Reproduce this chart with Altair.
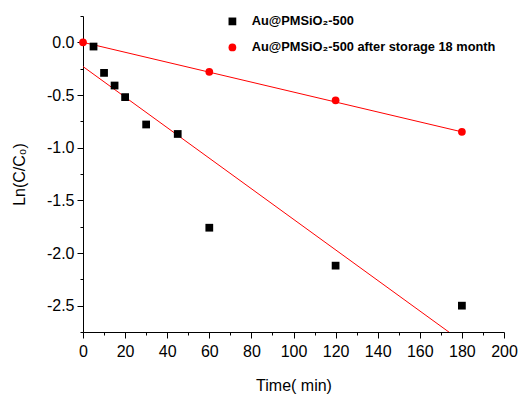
import altair as alt
import pandas as pd

s1 = "Au@PMSiO₂-500"
s2 = "Au@PMSiO₂-500 after storage 18 month"

t1 = [5, 10, 15, 20, 30, 45, 60, 120, 180]
y1 = [-0.04, -0.29, -0.41, -0.52, -0.78, -0.87, -1.76, -2.12, -2.50]
t2 = [0, 60, 120, 180]
y2 = [0.0, -0.28, -0.55, -0.85]

# fitted lines (endpoints)
fit1_x = [0, 180]
fit1_y = [-0.23, -2.84]
fit2_x = [0, 180]
fit2_y = [0.0, -0.85]

pts = pd.DataFrame(
    {"t": t1 + t2, "v": y1 + y2, "s": [s1] * len(t1) + [s2] * len(t2)}
)
fits = pd.DataFrame(
    {"t": fit1_x + fit2_x, "v": fit1_y + fit2_y, "g": ["a", "a", "b", "b"]}
)

font = "Liberation Sans"
xticks = list(range(0, 201, 10))
yticks = [-2.75 + 0.25 * i for i in range(13)]

xaxis = alt.Axis(
    values=xticks,
    labelExpr="datum.value % 20 === 0 ? datum.label : ''",
    tickSize={"condition": {"test": "datum.value % 20 === 0", "value": 6}, "value": 3},
    grid=False, domainColor="black", tickColor="black",
    labelFlush=False, labelOverlap=False,
    labelFont=font, labelFontSize=16, labelColor="black", labelPadding=5,
    titleFont=font, titleFontSize=16, titleFontWeight="normal", titleColor="black",
    titlePadding=18,
)
yaxis = alt.Axis(
    values=yticks,
    labelExpr="abs(datum.value*2 - round(datum.value*2)) < 1e-6 ? replace(format(datum.value, '.1f'), '\u2212', '-') : ''",
    tickSize={"condition": {"test": "abs(datum.value*2 - round(datum.value*2)) < 1e-6", "value": 6}, "value": 3},
    grid=False, domainColor="black", tickColor="black",
    labelFlush=False, labelOverlap=False,
    labelFont=font, labelFontSize=16, labelColor="black", labelPadding=3,
    titleFont=font, titleFontSize=16, titleFontWeight="normal", titleColor="black",
    titlePadding=19,
)

x = alt.X("t:Q", title="Time( min)", scale=alt.Scale(domain=[0, 200], nice=False, zero=False), axis=xaxis)
y = alt.Y("v:Q", title="Ln(C/C₀)", scale=alt.Scale(domain=[-2.75, 0.25], nice=False, zero=False), axis=yaxis)

lines = alt.Chart(fits).mark_line(color="red", strokeWidth=1, clip=True).encode(
    x=x, y=y, detail="g:N"
)

leg = alt.Legend(
    title=None, orient="none", legendX=143, legendY=-1,
    labelFont=font, labelFontSize=12.8, labelFontWeight="bold", labelColor="black",
    symbolSize=60, rowPadding=12, labelOffset=13, labelLimit=400,
)

points = alt.Chart(pts).mark_point(filled=True, opacity=1, size=60).encode(
    x=x,
    y=y,
    color=alt.Color("s:N", scale=alt.Scale(domain=[s1, s2], range=["black", "red"]), legend=leg),
    shape=alt.Shape("s:N", scale=alt.Scale(domain=[s1, s2], range=["square", "circle"]), legend=leg),
)

chart = (
    alt.layer(lines, points)
    .properties(
        width=421, height=316,
        padding={"left": 83, "top": 16, "right": 22, "bottom": 62},
        autosize=alt.AutoSizeParams(type="none"),
        background="white",
    )
    .configure_view(stroke=None)
)

chart.save("out.html", embed_options={"renderer": "svg", "actions": False})
